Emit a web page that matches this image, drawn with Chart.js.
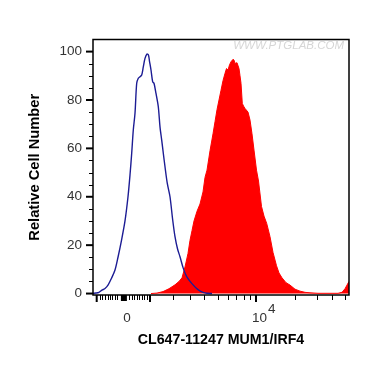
<!DOCTYPE html>
<html>
<head>
<meta charset="utf-8">
<script src="https://cdn.jsdelivr.net/npm/chart.js@4.4.1/dist/chart.umd.min.js"></script>
<style>
  html, body { margin: 0; padding: 0; background: #fff; }
  #wrap { width: 370px; height: 365px; }
</style>
</head>
<body>
<div id="wrap"><canvas id="flowChart"></canvas></div>
<script>
// channel positions (display units along the biexponential axis) and cell counts
const blueX = [0, 3, 6, 9, 12, 15, 18.5, 22, 25, 28.5, 32, 35, 37, 38.7, 40.3, 42, 43.7, 45.3, 47, 48.7,
    50.3, 52, 54, 55.5, 56.5, 58, 59.7, 61, 63, 65.3, 67, 68.7, 70.3, 72, 74.3, 77, 79.7, 82, 84.5, 87,
    90.3, 93.7, 98.7, 105.3, 110, 114, 119];
const blueY = [0.1, 0.2, 0.5, 1.4, 2.1, 3.5, 6.3, 9.7, 15, 22, 30, 40, 49, 58, 67.6, 74.5, 86.9, 89, 89.6, 90.3,
    93.7, 97.2, 99, 98.5, 96, 92.4, 87.5, 86.9, 82.7, 77.2, 68.9, 63.4, 58, 52.4, 45.5, 40, 30.4, 23.5, 18.5, 15.2,
    10.4, 7, 4.2, 1.5, 0.5, 0.1, 0];

const redX = [58, 64, 70, 76, 82, 86, 89, 92, 95, 97, 99, 101, 104, 107, 110, 112, 114, 117, 120, 122,
    124, 126, 128, 130, 132, 133.5, 135, 136.5, 138, 140, 141, 142, 144, 146, 147, 148, 149.3, 150.5, 152, 155,
    157, 159, 161, 163.5, 165.5, 168.5, 171, 173.7, 177, 180, 183.5, 186, 189, 193, 197, 202, 207, 212, 217, 225,
    235, 245, 249, 252, 254, 256];
const redY = [0, 0.2, 0.8, 2, 3.6, 5, 6.5, 11, 16.6, 22, 26, 30, 34, 37, 42, 48, 51, 59, 66, 71,
    76, 80, 84, 88, 91, 93, 92.4, 94.5, 95.8, 96.8, 96.5, 95.1, 95.4, 93, 90, 86.9, 78.6, 77.5, 76.5, 75,
    71.7, 66, 59.3, 51, 46.5, 36, 32, 29, 23.5, 17, 11.5, 8.5, 6.5, 4.5, 3.5, 1.8, 1, 0.5, 0.3, 0.1,
    0.1, 0.1, 0.5, 2, 3.5, 5];

// axis ticks
const yTicks = [0, 20, 40, 60, 80, 100];
const yMinorTicks = [5, 10, 15, 25, 30, 35, 45, 50, 55, 65, 70, 75, 85, 90, 95];
const xMajorTicks = [3.7, 57, 163];
const xZeroTick = 30.9;
const xMinorTicks = [7, 9.3, 12, 14.7, 17, 19.3, 22, 24.3, 36.3, 38.7, 41.3, 43.7, 46.3, 48.7, 51.3, 53.7,
    80.3, 97, 111, 124.5, 134.5, 143, 150.5, 157, 202, 223.7, 238.7, 252];
const xLabelPos = [30.9, 163];
const xLabelBase = ["0", "10"];
const xLabelExp = ["", "4"];

const FONT = "Arial, 'Liberation Sans', sans-serif";

const toPoints = (xs, ys) => xs.map((x, i) => ({ x: x, y: ys[i] }));

const axisMarks = {
    id: "axisMarks",
    afterDraw(chart) {
        const ctx = chart.ctx;
        const area = chart.chartArea;
        const xs = chart.scales.x;
        const ys = chart.scales.y;
        ctx.save();
        ctx.strokeStyle = "#000";

        // frame
        ctx.lineWidth = 1.5;
        ctx.strokeRect(area.left, area.top, area.right - area.left, area.bottom - area.top);

        // y ticks
        yTicks.forEach(v => {
            const py = ys.getPixelForValue(v);
            ctx.lineWidth = 2;
            ctx.beginPath();
            ctx.moveTo(area.left - 7, py);
            ctx.lineTo(area.left, py);
            ctx.stroke();
        });
        yMinorTicks.forEach(v => {
            const py = Math.round(ys.getPixelForValue(v)) + 0.5;
            ctx.lineWidth = 1;
            ctx.beginPath();
            ctx.moveTo(area.left - 4, py);
            ctx.lineTo(area.left, py);
            ctx.stroke();
        });

        // x ticks
        xMinorTicks.forEach(v => {
            const px = Math.round(xs.getPixelForValue(v)) + 0.5;
            ctx.lineWidth = 1;
            ctx.beginPath();
            ctx.moveTo(px, area.bottom);
            ctx.lineTo(px, area.bottom + 5);
            ctx.stroke();
        });
        xMajorTicks.forEach(v => {
            const px = xs.getPixelForValue(v);
            ctx.lineWidth = 2;
            ctx.beginPath();
            ctx.moveTo(px, area.bottom);
            ctx.lineTo(px, area.bottom + 7);
            ctx.stroke();
        });
        ctx.lineWidth = 6;
        ctx.beginPath();
        ctx.moveTo(xs.getPixelForValue(xZeroTick), area.bottom);
        ctx.lineTo(xs.getPixelForValue(xZeroTick), area.bottom + 6);
        ctx.stroke();

        // x tick labels (10 with raised exponent)
        ctx.fillStyle = "#333";
        ctx.font = "13.5px " + FONT;
        ctx.textBaseline = "alphabetic";
        xLabelPos.forEach((v, i) => {
            const px = xs.getPixelForValue(v);
            if (xLabelExp[i]) {
                ctx.textAlign = "left";
                const x0 = px - 4;
                ctx.fillText(xLabelBase[i], x0, 321.5);
                ctx.fillText(xLabelExp[i], x0 + ctx.measureText(xLabelBase[i]).width + 1, 313);
            } else {
                ctx.textAlign = "center";
                ctx.fillText(xLabelBase[i], px + 3, 321.5);
            }
        });

        // watermark
        ctx.fillStyle = "#d6d6d6";
        ctx.font = "italic 11.5px " + FONT;
        ctx.textAlign = "right";
        ctx.textBaseline = "middle";
        ctx.fillText("WWW.PTGLAB.COM", 344, 46);
        ctx.restore();
    }
};

new Chart(document.getElementById("flowChart"), {
    type: "line",
    data: {
        datasets: [{
            label: "Isotype",
            data: toPoints(blueX, blueY),
            borderColor: "#1c1c94",
            borderWidth: 1.4,
            fill: false,
            tension: 0.3,
            pointRadius: 0,
            order: 0
        }, {
            label: "CL647-11247",
            data: toPoints(redX, redY),
            borderColor: "#ff0000",
            backgroundColor: "#ff0000",
            borderWidth: 1,
            fill: "origin",
            tension: 0,
            pointRadius: 0,
            order: 1
        }]
    },
    options: {
        responsive: true,
        maintainAspectRatio: false,
        animation: false,
        layout: {
            padding: { top: 39.5, right: 21, left: 0, bottom: 0 }
        },
        plugins: {
            legend: { display: false },
            tooltip: { enabled: false }
        },
        scales: {
            x: {
                type: "linear",
                min: 0,
                max: 256,
                afterFit: function (scale) { scale.height = 70; },
                ticks: { display: false },
                grid: { display: false, drawTicks: false },
                border: { display: false },
                title: {
                    display: true,
                    text: "CL647-11247 MUM1/IRF4",
                    color: "#000",
                    font: { family: FONT, size: 14.2, weight: "bold" },
                    padding: 16
                }
            },
            y: {
                min: -0.6,
                max: 105,
                afterFit: function (scale) { scale.width = 93; },
                afterBuildTicks: function (scale) {
                    scale.ticks = yTicks.map(v => ({ value: v }));
                },
                ticks: {
                    color: "#333",
                    padding: 4,
                    font: { family: FONT, size: 13.5 }
                },
                grid: { display: false, drawTicks: true, tickLength: 7 },
                border: { display: false },
                title: {
                    display: true,
                    text: "Relative Cell Number",
                    color: "#000",
                    font: { family: FONT, size: 14.7, weight: "bold" },
                    padding: 26.5
                }
            }
        }
    },
    plugins: [axisMarks]
});
</script>
</body>
</html>
